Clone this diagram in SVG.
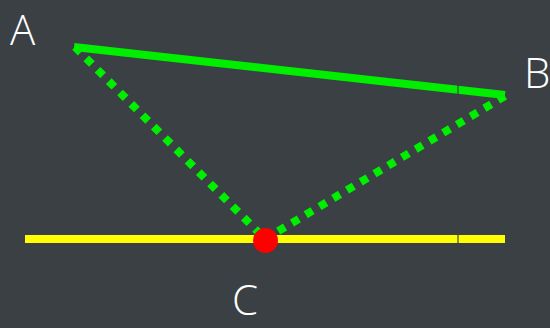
<svg xmlns="http://www.w3.org/2000/svg" width="550" height="328" viewBox="0 0 550 328">
<style>
.lbl{font-family:"Open Sans","Liberation Sans",sans-serif;font-weight:300;font-size:42px;fill:#ffffff}
.dot{stroke:#00ee00;stroke-width:8;stroke-dasharray:8 8;fill:none}
</style>
<rect width="550" height="328" fill="#3a4044"/>
<g id="connectors">
<line x1="25" y1="239" x2="505" y2="239" stroke="#ffff00" stroke-width="8"/>
<line x1="458" y1="234" x2="458" y2="244" stroke="#3a4044" stroke-width="1.2"/>
<line class="dot" x1="75" y1="47" x2="265" y2="239"/>
<line class="dot" x1="505" y1="96" x2="265" y2="239"/>
<line x1="74" y1="47" x2="505" y2="95" stroke="#00ee00" stroke-width="8"/>
<line x1="458" y1="84" x2="458" y2="96" stroke="#3a4044" stroke-width="1.2"/>
</g>
<g id="C-point"><circle cx="265.5" cy="240.5" r="12.5" fill="#ff0000"/></g>
<g id="A"><text class="lbl" x="10" y="45">A</text></g>
<g id="B"><text class="lbl" x="524" y="88" font-size="40">B</text></g>
<g id="C"><text class="lbl" x="232" y="315" font-size="40">C</text></g>
</svg>
